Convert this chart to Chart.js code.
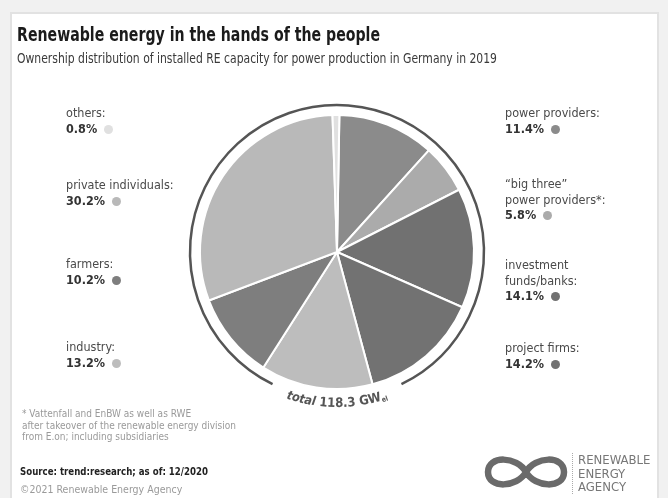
<!DOCTYPE html>
<html>
<head>
<meta charset="utf-8">
<title>Renewable energy in the hands of the people</title>
<script src="https://cdn.jsdelivr.net/npm/chart.js@4.4.0/dist/chart.umd.min.js"></script>
<style>
  html, body { margin: 0; padding: 0; }
  body { width: 668px; height: 498px; background: #f1f1f1; position: relative; overflow: hidden;
         font-family: "DejaVu Sans Condensed", Roboto, sans-serif; }
  #card { position: absolute; left: 10px; top: 12px; width: 649px; height: 500px; background: #fff;
          border: 2px solid #e2e2e2; box-sizing: border-box; }
  #chartBox { position: absolute; left: 0; top: 0; width: 668px; height: 498px; }
  .t { position: absolute; white-space: nowrap; transform-origin: 0 0; }
  #title { left: 17px; top: 23px; font-size: 19px; font-weight: bold; color: #1b1b1b; }
  #subtitle { left: 17px; top: 50px; font-size: 13.5px; color: #3a3a3a; }
  .lab { position: absolute; font-size: 12.5px; line-height: 15.5px; color: #4a4a4a; white-space: nowrap; }
  .lab b { color: #333; }
  .dot { display: inline-block; width: 9px; height: 9px; border-radius: 50%; margin-left: 7px; vertical-align: -1px; }
  .note { position: absolute; left: 22px; top: 408px; font-size: 10px; line-height: 11.5px; color: #9a9a9a; }
  #source { left: 20px; top: 465px; font-size: 10.5px; font-weight: bold; color: #222; }
  #copy { left: 20px; top: 483px; font-size: 10.5px; color: #9a9a9a; }
  #logoText { position: absolute; left: 572px; top: 453px; font-size: 13px; line-height: 13.5px; color: #777;
              border-left: 1px dotted #aaa; padding-left: 5px; }
</style>
</head>
<body>
<div id="card"></div>
<div id="chartBox"><canvas id="myChart"></canvas></div>

<div class="t" id="title" data-w="363">Renewable energy in the hands of the people</div>
<div class="t" id="subtitle" data-w="480">Ownership distribution of installed RE capacity for power production in Germany in 2019</div>

<div id="labels"></div>

<div class="note">* Vattenfall and EnBW as well as RWE<br>after takeover of the renewable energy division<br>from E.on; including subsidiaries</div>
<div class="t" id="source" data-w="188">Source: trend:research; as of: 12/2020</div>
<div class="t" id="copy">©2021 Renewable Energy Agency</div>

<svg style="position:absolute;left:484px;top:453px" width="84" height="38" viewBox="0 0 84 38">
  <path d="M42 19 C 33 3, 4 2, 4 19 C 4 36, 33 35, 42 19 C 51 3, 80 2, 80 19 C 80 36, 51 35, 42 19 Z"
        fill="none" stroke="#6a6a6a" stroke-width="6.5"/>
</svg>
<div id="logoText">RENEWABLE<br>ENERGY<br>AGENCY</div>

<script>
// data, clockwise from 12 o'clock
const categories = ['power providers', '\u201Cbig three\u201D power providers*', 'investment funds/banks',
                    'project firms', 'industry', 'farmers', 'private individuals', 'others'];
const labelLines = [['power providers:'], ['\u201Cbig three\u201D', 'power providers*:'], ['investment', 'funds/banks:'],
                    ['project firms:'], ['industry:'], ['farmers:'], ['private individuals:'], ['others:']];
const shares = [11.4, 5.8, 14.1, 14.2, 13.2, 10.2, 30.2, 0.8];
const sliceColors = ['#8b8b8b', '#ababab', '#717171', '#727272', '#bdbdbd', '#7e7e7e', '#b9b9b9', '#e0e0e0'];
const totalText = ['total', '118.3 GW', 'el'];

// where each label block sits (left, top)
const labelPos = [[505, 105], [505, 176], [505, 257], [505, 340], [66, 339], [66, 256], [66, 177], [66, 105]];

// squeeze the wide texts to the width they have in the original
document.querySelectorAll('[data-w]').forEach(el => {
    const w = el.getBoundingClientRect().width;
    el.style.transform = 'scaleX(' + (parseFloat(el.dataset.w) / w) + ')';
});

const labelsDiv = document.getElementById('labels');
categories.forEach((c, i) => {
    let d = document.createElement('div');
    d.className = 'lab';
    d.style.left = labelPos[i][0] + 'px';
    d.style.top = labelPos[i][1] + 'px';
    d.innerHTML = labelLines[i].join('<br>') + '<br><b>' + shares[i].toFixed(1) + '%</b>' +
        '<span class="dot" style="background:' + sliceColors[i] + '"></span>';
    labelsDiv.appendChild(d);
});

// outer ring with a gap at the bottom, and the curved total text
const ringPlugin = {
    id: 'ring',
    afterDatasetsDraw(chart) {
        const arc = chart.getDatasetMeta(0).data[0];
        const cx = arc.x, cy = arc.y, r = arc.outerRadius;
        const ctx = chart.ctx;
        ctx.save();
        const gap = 26 * Math.PI / 180;
        ctx.beginPath();
        ctx.arc(cx, cy, r + 10, Math.PI / 2 + gap, Math.PI / 2 - gap);
        ctx.strokeStyle = '#555';
        ctx.lineWidth = 2.5;
        ctx.stroke();

        // text along the bottom
        const R = r + 18;
        const fam = '"DejaVu Sans Condensed", Roboto, sans-serif';
        const parts = [
            { s: totalText[0] + ' ', f: 'italic bold 12.5px ' + fam, dy: 0 },
            { s: totalText[1], f: 'bold 13px ' + fam, dy: 0 },
            { s: totalText[2], f: 'bold 7px ' + fam, dy: 2 }
        ];
        let total = 0;
        parts.forEach(p => { ctx.font = p.f; p.w = ctx.measureText(p.s).width; total += p.w; });
        let ang = Math.PI / 2 + (total / 2) / R;
        ctx.fillStyle = '#555';
        ctx.textAlign = 'center';
        ctx.textBaseline = 'alphabetic';
        parts.forEach(p => {
            ctx.font = p.f;
            for (const ch of p.s) {
                const w = ctx.measureText(ch).width;
                const a = ang - (w / 2) / R;
                ctx.save();
                ctx.translate(cx + R * Math.cos(a), cy + R * Math.sin(a));
                ctx.rotate(a - Math.PI / 2);
                ctx.fillText(ch, 0, p.dy);
                ctx.restore();
                ang -= w / R;
            }
        });
        ctx.restore();
    }
};

new Chart(document.getElementById('myChart'), {
    type: 'pie',
    data: {
        labels: categories,
        datasets: [{
            data: shares,
            backgroundColor: sliceColors,
            borderColor: '#ffffff',
            borderWidth: 2,
            hoverOffset: 0
        }]
    },
    options: {
        responsive: true,
        maintainAspectRatio: false,
        animation: false,
        rotation: 1,
        layout: { padding: { left: 199, right: 193, top: 114, bottom: 108 } },
        plugins: { legend: { display: false }, tooltip: { enabled: false } },
        events: []
    },
    plugins: [ringPlugin]
});
</script>
</body>
</html>
